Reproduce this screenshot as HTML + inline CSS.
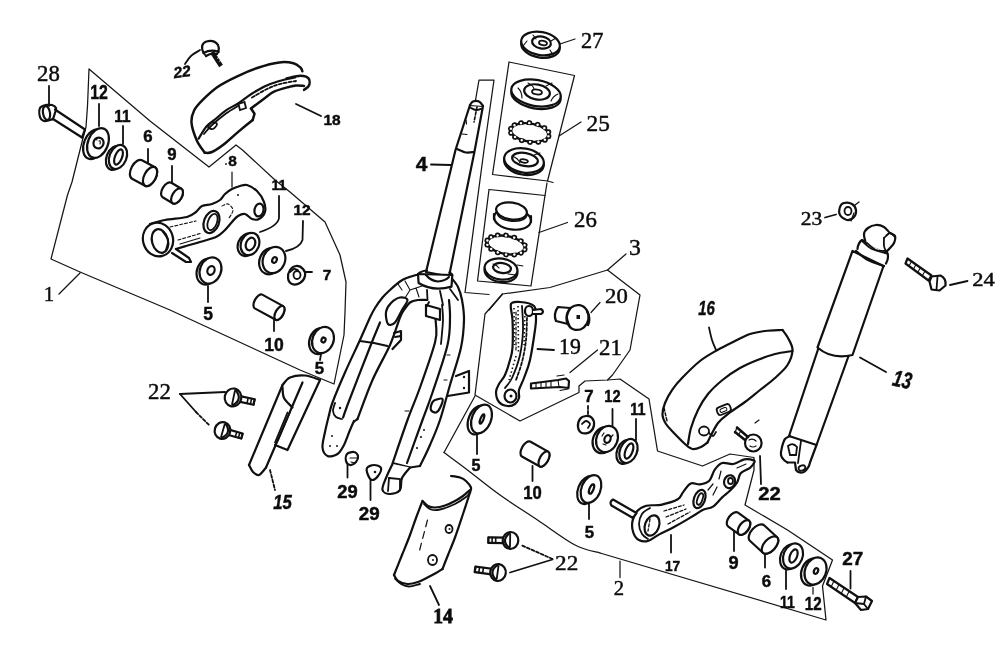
<!DOCTYPE html>
<html><head><meta charset="utf-8"><title>Front fork</title>
<style>
html,body{margin:0;padding:0;background:#fff;}
body{width:1000px;height:648px;overflow:hidden;font-family:"Liberation Sans",sans-serif;}
svg{display:block;filter:blur(0.45px)}
.p{fill:none;stroke:#101010;stroke-width:2.2;stroke-linecap:round;stroke-linejoin:round}
.w{fill:#fff}
.k{stroke-width:2.5}
.t{fill:none;stroke:#151515;stroke-width:1.25;stroke-linecap:round;stroke-linejoin:round}
.l{fill:none;stroke:#101010;stroke-width:1.8;stroke-linecap:round}
.d{stroke-dasharray:3 2}
.f{fill:#141414;stroke:none}
text{fill:#0c0c0c;stroke:#0c0c0c;stroke-width:0.45px}
</style></head><body>
<svg width="1000" height="648" viewBox="0 0 1000 648">
<rect width="1000" height="648" fill="#fff"/>
<path class="t" d="M89.0,69.0 L87.5,106.0 L86.0,127.0 L82.5,140.0 L72.0,182.0 L67.5,195.0 L51.0,259.0 L80.0,272.0 L170.0,310.0 L300.0,370.0 L334.0,384.0 L344.0,335.0 L345.0,312.0 L346.0,282.0 L340.0,255.0 L325.0,222.0 L290.0,192.0 L275.0,180.0 L242.5,150.0 L236.0,145.0 L209.0,167.0 L150.0,121.0Z" />
<path class="t" d="M59.0,294.0 L80.0,273.0" />
<path class="t" d="M475.0,103.0 L479.0,80.0 L494.0,80.0 L484.0,150.0 L465.0,292.5 L489.0,294.5" />
<path class="t" d="M509.0,62.0 L574.5,75.5 L547.5,181.0 L492.5,174.5Z" />
<path class="t" d="M547.5,181.0 L553.0,182.5" />
<path class="t" d="M489.0,189.5 L545.0,195.5 L531.0,286.0 L477.5,281.0Z" />
<path class="t" d="M545.0,195.5 L547.0,183.0" />
<path class="t" d="M502.5,294.0 L550.0,287.5 L607.5,270.0 L640.0,295.0 L630.0,350.0 L612.5,375.0 L607.5,380.0 L585.0,381.0 L579.0,386.0 L579.0,392.5 L520.0,421.0 L475.0,395.0 L485.0,314.0Z" />
<path class="t" d="M607.5,270.0 L626.0,254.0" />
<path class="t" d="M489.0,310.0 L502.5,294.0" />
<path class="t" d="M475.0,396.0 L444.0,452.5 " />
<path class="t" d="M444.0,452.5 C447.9,455.4 458.2,462.9 467.5,470.0 C476.8,477.1 488.3,486.7 500.0,495.0 C511.7,503.3 525.0,511.7 537.5,520.0 C550.0,528.3 564.6,539.5 575.0,545.0 C585.4,550.5 595.8,551.7 600.0,553.0" />
<path class="t" d="M600.0,553.0 L826.0,620.0 L822.5,586.0 L832.5,560.0 L787.5,530.0 L745.0,505.0 L754.0,470.0 L754.0,457.5 L730.0,454.0 L702.5,466.0 L657.5,451.0 L649.0,399.0 L620.0,379.0 L607.5,380.0" />
<path class="t" d="M620.0,561.0 L620.0,577.5" />
<path class="l" d="M49.0,86.0 L49.0,106.0" />
<path class="l" d="M180.0,394.0 L225.0,392.0" />
<path class="l" d="M180.0,394.0 L196.0,412.0" />
<path class="l d" d="M196.0,412.0 L209.0,425.0" />
<path class="t" d="M560.0,44.0 L575.0,39.0" />
<path class="t" d="M581.0,122.0 L559.0,136.0" />
<path class="t" d="M567.5,222.5 L539.0,232.5" />
<path class="t" d="M600.0,302.5 L591.0,312.5" />
<path class="l" d="M537.5,349.0 L554.0,350.0" />
<path class="t" d="M597.5,350.0 L570.0,372.5" />
<path class="l d" d="M552.5,559.0 L521.0,545.0" />
<path class="l" d="M552.5,559.5 L510.0,572.5" />
<path class="l" d="M825.0,217.5 L836.0,214.5" />
<path class="l" d="M950.0,285.0 L967.5,281.0" />
<text x="37.1" y="81.0" textLength="22.8" lengthAdjust="spacingAndGlyphs" style="font-family:'Liberation Serif',serif;font-size:22.2px;font-weight:normal;">28</text>
<text x="49.0" y="301.0" text-anchor="middle" style="font-family:'Liberation Serif',serif;font-size:20.7px;font-weight:normal;">1</text>
<text x="148.1" y="399.0" textLength="22.8" lengthAdjust="spacingAndGlyphs" style="font-family:'Liberation Serif',serif;font-size:22.2px;font-weight:normal;">22</text>
<text x="581.1" y="48.0" textLength="22.3" lengthAdjust="spacingAndGlyphs" style="font-family:'Liberation Serif',serif;font-size:22.2px;font-weight:normal;">27</text>
<text x="586.6" y="131.0" textLength="23.3" lengthAdjust="spacingAndGlyphs" style="font-family:'Liberation Serif',serif;font-size:22.2px;font-weight:normal;">25</text>
<text x="574.1" y="227.0" textLength="22.8" lengthAdjust="spacingAndGlyphs" style="font-family:'Liberation Serif',serif;font-size:22.2px;font-weight:normal;">26</text>
<text x="635.0" y="255.0" text-anchor="middle" style="font-family:'Liberation Serif',serif;font-size:23.7px;font-weight:normal;">3</text>
<text x="605.1" y="302.5" textLength="22.7" lengthAdjust="spacingAndGlyphs" style="font-family:'Liberation Serif',serif;font-size:21.4px;font-weight:normal;">20</text>
<text x="559.1" y="354.0" textLength="21.8" lengthAdjust="spacingAndGlyphs" style="font-family:'Liberation Serif',serif;font-size:22.2px;font-weight:normal;">19</text>
<text x="599.1" y="355.0" textLength="22.8" lengthAdjust="spacingAndGlyphs" style="font-family:'Liberation Serif',serif;font-size:22.2px;font-weight:normal;">21</text>
<text x="555.1" y="569.5" textLength="23.2" lengthAdjust="spacingAndGlyphs" style="font-family:'Liberation Serif',serif;font-size:21.4px;font-weight:normal;">22</text>
<text x="619.0" y="595.0" text-anchor="middle" style="font-family:'Liberation Serif',serif;font-size:20.7px;font-weight:normal;">2</text>
<text x="800.8" y="225.0" textLength="21.4" lengthAdjust="spacingAndGlyphs" style="font-family:'Liberation Serif',serif;font-size:17.8px;font-weight:normal;">23</text>
<text x="972.2" y="286.0" textLength="22.5" lengthAdjust="spacingAndGlyphs" style="font-family:'Liberation Serif',serif;font-size:19.2px;font-weight:normal;">24</text>
<text x="433.2" y="622.5" textLength="19.6" lengthAdjust="spacingAndGlyphs" style="font-family:'Liberation Serif',serif;font-size:20.0px;font-weight:bold;stroke-width:0.8px;">14</text>
<text x="90.2" y="99.0" textLength="17.6" lengthAdjust="spacingAndGlyphs" style="font-family:'Liberation Sans',serif;font-size:19.6px;font-weight:bold;">12</text>
<path class="l" d="M99.0,104.0 L99.0,126.0" />
<text x="114.3" y="122.0" textLength="16.3" lengthAdjust="spacingAndGlyphs" style="font-family:'Liberation Sans',serif;font-size:16.8px;font-weight:bold;">11</text>
<path class="l" d="M123.0,126.0 L123.0,144.0" />
<text x="148.0" y="142.0" text-anchor="middle" style="font-family:'Liberation Sans',serif;font-size:16.8px;font-weight:bold;">6</text>
<path class="l" d="M148.0,149.0 L148.0,165.0" />
<text x="172.0" y="160.0" text-anchor="middle" style="font-family:'Liberation Sans',serif;font-size:16.8px;font-weight:bold;">9</text>
<path class="l" d="M172.0,166.0 L172.0,182.0" />
<text x="173.4" y="77.0" textLength="17.2" lengthAdjust="spacingAndGlyphs" style="font-family:'Liberation Sans',serif;font-size:15.4px;font-weight:bold;font-style:italic;" transform="rotate(-8.0 182.0 71.5)">22</text>
<path class="l" d="M185.0,64.0 C186.0,62.7 188.5,58.3 191.0,56.0 C193.5,53.7 198.5,51.0 200.0,50.0" />
<text x="323.4" y="125.0" textLength="17.2" lengthAdjust="spacingAndGlyphs" style="font-family:'Liberation Sans',serif;font-size:15.4px;font-weight:bold;">18</text>
<path class="l" d="M296.0,104.0 L321.0,116.0" />
<text x="232.5" y="166.0" text-anchor="middle" style="font-family:'Liberation Sans',serif;font-size:15.4px;font-weight:bold;">8</text>
<circle class="f" cx="226" cy="164" r="0.9"/>
<path class="t" d="M232.0,172.0 L232.0,187.0" />
<text x="271.4" y="190.0" textLength="15.2" lengthAdjust="spacingAndGlyphs" style="font-family:'Liberation Sans',serif;font-size:15.4px;font-weight:bold;">11</text>
<path class="l" d="M279,196 L279,218 Q278,226 260,232" />
<text x="293.4" y="215.0" textLength="17.1" lengthAdjust="spacingAndGlyphs" style="font-family:'Liberation Sans',serif;font-size:14.0px;font-weight:bold;">12</text>
<path class="l" d="M303,221 L302.5,240 Q300,248 286,251" />
<text x="327.0" y="280.0" text-anchor="middle" style="font-family:'Liberation Sans',serif;font-size:15.4px;font-weight:bold;">7</text>
<path class="l" d="M304.0,272.0 L312.0,272.0" />
<text x="208.2" y="319.5" text-anchor="middle" style="font-family:'Liberation Sans',serif;font-size:17.5px;font-weight:bold;">5</text>
<path class="l" d="M208.0,286.0 L208.0,302.0" />
<text x="264.3" y="351.0" textLength="19.5" lengthAdjust="spacingAndGlyphs" style="font-family:'Liberation Sans',serif;font-size:18.2px;font-weight:bold;">10</text>
<path class="l" d="M274.0,317.0 L274.0,331.0" />
<text x="319.5" y="374.0" text-anchor="middle" style="font-family:'Liberation Sans',serif;font-size:16.8px;font-weight:bold;">5</text>
<path class="l" d="M321.0,354.0 L320.0,360.0" />
<text x="273.2" y="509.0" textLength="18.6" lengthAdjust="spacingAndGlyphs" style="font-family:'Liberation Sans',serif;font-size:19.6px;font-weight:bold;font-style:italic;">15</text>
<path class="l d" d="M270.0,470.0 L275.0,490.0" />
<text x="337.3" y="497.5" textLength="20.4" lengthAdjust="spacingAndGlyphs" style="font-family:'Liberation Sans',serif;font-size:17.5px;font-weight:bold;">29</text>
<path class="l" d="M347.5,465.0 L347.5,477.5" />
<text x="358.8" y="519.5" textLength="20.9" lengthAdjust="spacingAndGlyphs" style="font-family:'Liberation Sans',serif;font-size:17.5px;font-weight:bold;">29</text>
<path class="l" d="M370.5,479.0 L370.5,500.0" />
<text x="421.5" y="171.0" text-anchor="middle" style="font-family:'Liberation Sans',serif;font-size:20.9px;font-weight:bold;">4</text>
<path class="l" d="M431.0,164.5 L451.0,165.0" />
<text x="476.0" y="470.5" text-anchor="middle" style="font-family:'Liberation Sans',serif;font-size:16.1px;font-weight:bold;">5</text>
<path class="l" d="M477.0,435.0 L477.0,454.0" />
<text x="523.3" y="499.0" textLength="18.5" lengthAdjust="spacingAndGlyphs" style="font-family:'Liberation Sans',serif;font-size:18.2px;font-weight:bold;">10</text>
<path class="l" d="M532.5,466.0 L532.5,481.0" />
<text x="589.5" y="538.0" text-anchor="middle" style="font-family:'Liberation Sans',serif;font-size:16.8px;font-weight:bold;">5</text>
<path class="l" d="M589.0,502.5 L589.0,519.0" />
<text x="588.8" y="402.0" text-anchor="middle" style="font-family:'Liberation Sans',serif;font-size:16.8px;font-weight:bold;">7</text>
<path class="l d" d="M588.0,406.0 L588.0,416.0" />
<text x="604.3" y="402.0" textLength="16.3" lengthAdjust="spacingAndGlyphs" style="font-family:'Liberation Sans',serif;font-size:16.8px;font-weight:bold;">12</text>
<path class="l" d="M612.5,409.0 L612.5,426.0" />
<text x="630.3" y="414.5" textLength="15.3" lengthAdjust="spacingAndGlyphs" style="font-family:'Liberation Sans',serif;font-size:16.8px;font-weight:bold;">11</text>
<path class="l" d="M636.0,419.0 L636.0,440.0" />
<text x="698.2" y="314.5" textLength="16.6" lengthAdjust="spacingAndGlyphs" style="font-family:'Liberation Sans',serif;font-size:20.3px;font-weight:bold;font-style:italic;">16</text>
<path class="l" d="M709.0,327.5 C709.5,329.6 710.8,336.2 712.0,340.0 C713.2,343.8 715.3,348.3 716.0,350.0" />
<text x="758.3" y="500.0" textLength="22.5" lengthAdjust="spacingAndGlyphs" style="font-family:'Liberation Sans',serif;font-size:18.2px;font-weight:bold;">22</text>
<path class="l" d="M760.0,456.0 L761.0,484.0" />
<text x="664.9" y="571.0" textLength="15.2" lengthAdjust="spacingAndGlyphs" style="font-family:'Liberation Sans',serif;font-size:15.4px;font-weight:bold;">17</text>
<path class="l" d="M671.0,535.0 L671.0,552.5" />
<text x="733.5" y="569.0" text-anchor="middle" style="font-family:'Liberation Sans',serif;font-size:18.2px;font-weight:bold;">9</text>
<path class="l" d="M734.0,530.0 L734.0,551.0" />
<text x="766.5" y="587.0" text-anchor="middle" style="font-family:'Liberation Sans',serif;font-size:16.8px;font-weight:bold;">6</text>
<path class="l" d="M765.0,547.5 L765.0,567.5" />
<text x="779.9" y="607.5" textLength="14.8" lengthAdjust="spacingAndGlyphs" style="font-family:'Liberation Sans',serif;font-size:16.1px;font-weight:bold;">11</text>
<path class="l" d="M786.0,570.0 L786.0,589.0" />
<text x="804.8" y="610.0" textLength="16.9" lengthAdjust="spacingAndGlyphs" style="font-family:'Liberation Sans',serif;font-size:17.5px;font-weight:bold;">12</text>
<path class="t" d="M813.0,587.5 L813.0,594.0" />
<text x="842.2" y="565.0" textLength="21.0" lengthAdjust="spacingAndGlyphs" style="font-family:'Liberation Sans',serif;font-size:18.9px;font-weight:bold;">27</text>
<path class="l" d="M850.5,571.0 L850.5,588.5" />
<text x="893.1" y="387.5" textLength="18.8" lengthAdjust="spacingAndGlyphs" style="font-family:'Liberation Sans',serif;font-size:23.0px;font-weight:bold;font-style:italic;" transform="rotate(12.0 902.5 379.2)">13</text>
<path class="l" d="M860.0,357.5 L886.0,372.0" />
<path class="l" d="M430.0,586.0 L439.0,605.0" />
<path class="p" d="M55.0,109.5 L85.0,129.5" />
<path class="p" d="M53.0,119.0 L82.0,137.5" />
<path class="p" d="M85.0,129.5 L82.0,137.5" />
<path class="p w" d="M46.0,105.0 C45.0,105.5 41.0,106.0 40.0,108.0 C39.0,110.0 39.3,114.8 40.0,117.0 C40.7,119.2 42.3,120.5 44.0,121.0 C45.7,121.5 48.5,120.3 50.0,120.0 C51.5,119.7 52.5,119.2 53.0,119.0" />
<path class="p" d="M46.0,105.0 C47.0,105.0 50.3,104.5 52.0,105.0 C53.7,105.5 55.5,106.7 56.0,108.0 C56.5,109.3 55.5,111.2 55.0,113.0 C54.5,114.8 53.3,118.0 53.0,119.0" />
<ellipse class="p w" cx="46.5" cy="113.0" rx="3.5" ry="7.0" transform="rotate(-10.0 46.5 113.0)" />
<ellipse class="p w" cx="94.0" cy="144.2" rx="10.0" ry="15.5" transform="rotate(22.0 94.0 144.2)" />
<ellipse class="p w" cx="98.0" cy="143.0" rx="10.0" ry="15.5" transform="rotate(22.0 98.0 143.0)" />
<ellipse class="p" cx="98.5" cy="143.0" rx="5.0" ry="5.5" transform="rotate(22.0 98.5 143.0)" />
<path class="l" d="M94,141 q1,-3 3,-1 M99,141 q2,-1 1,3" style="stroke-width:1.1"/>
<ellipse class="p w" cx="115.0" cy="157.9" rx="8.5" ry="12.5" transform="rotate(22.0 115.0 157.9)" />
<ellipse class="p w" cx="118.0" cy="157.0" rx="8.5" ry="12.5" transform="rotate(22.0 118.0 157.0)" />
<ellipse class="p" cx="118.5" cy="157.0" rx="3.5" ry="8.0" transform="rotate(22.0 118.5 157.0)" />
<g transform="translate(137.0 169.5) rotate(28.3)">
<path class="p w" d="M0,-10.5 L14.8,-10.5 A5.8,10.5 0 0 1 14.8,10.5 L0,10.5 A5.8,10.5 0 0 1 0,-10.5 Z"/>
<ellipse class="p w" cx="14.8" cy="0" rx="5.8" ry="10.5"/>
</g>
<g transform="translate(167.0 190.0) rotate(31.0)">
<path class="p w" d="M0,-8.5 L11.7,-8.5 A4.7,8.5 0 0 1 11.7,8.5 L0,8.5 A4.7,8.5 0 0 1 0,-8.5 Z"/>
<ellipse class="p w" cx="11.7" cy="0" rx="4.7" ry="8.5"/>
</g>
<path d="M212,52 L221,66" style="fill:none;stroke:#111;stroke-width:4.4;stroke-linecap:butt"/>
<path d="M217,58.5 l3,-1.6 M219,61.5 l3,-1.6" style="fill:none;stroke:#fff;stroke-width:0.7"/>
<path class="p w" d="M203.5,53 Q199.5,44 206.5,41.5 Q214,39.5 218,45 Q219.5,48 218.5,52 Q211,49 203.5,53 Z" />
<path class="p" d="M206,56 Q211,52.5 217,54" />
<path class="l" d="M203.5,53 L206,56 M218.5,52 L217,54" />
<g transform="translate(233.0 397.5) rotate(12.0)">
<path class="p w" d="M4.5,-2.8 L21.5,-2.8 L21.5,2.8 L4.5,2.8 Z"/>
<path class="l" d="M14.9,-2.8 L14.9,2.8 M18.4,-2.8 L18.4,2.8 M21.8,-2.8 L21.8,2.8" style="stroke-width:1.6"/>
<ellipse class="p w" cx="0" cy="0" rx="8.3" ry="9.0"/>
<path class="p" d="M1.3,-7.6 Q10.3,0 1.3,7.6"/>
<path class="l" d="M0.5,-6.8 L0.5,6.8" style="stroke-width:1.8"/>
</g>
<g transform="translate(222.5 430.5) rotate(16.0)">
<path class="p w" d="M4.2,-2.6 L20.2,-2.6 L20.2,2.6 L4.2,2.6 Z"/>
<path class="l" d="M14.1,-2.6 L14.1,2.6 M17.3,-2.6 L17.3,2.6 M20.5,-2.6 L20.5,2.6" style="stroke-width:1.6"/>
<ellipse class="p w" cx="0" cy="0" rx="7.8" ry="8.5"/>
<path class="p" d="M1.3,-7.2 Q9.8,0 1.3,7.2"/>
<path class="l" d="M0.4,-6.4 L0.4,6.4" style="stroke-width:1.8"/>
</g>
<g transform="translate(510.5 540.5) rotate(181.0)">
<path class="p w" d="M4.2,-2.8 L22.2,-2.8 L22.2,2.8 L4.2,2.8 Z"/>
<path class="l" d="M14.8,-2.8 L14.8,2.8 M18.4,-2.8 L18.4,2.8 M22.0,-2.8 L22.0,2.8" style="stroke-width:1.6"/>
<ellipse class="p w" cx="0" cy="0" rx="7.8" ry="8.5"/>
<path class="p" d="M1.3,-7.2 Q9.8,0 1.3,7.2"/>
<path class="l" d="M0.4,-6.4 L0.4,6.4" style="stroke-width:1.8"/>
</g>
<g transform="translate(498.0 572.5) rotate(188.0)">
<path class="p w" d="M4.2,-2.8 L23.2,-2.8 L23.2,2.8 L4.2,2.8 Z"/>
<path class="l" d="M15.1,-2.8 L15.1,2.8 M19.0,-2.8 L19.0,2.8 M22.8,-2.8 L22.8,2.8" style="stroke-width:1.6"/>
<ellipse class="p w" cx="0" cy="0" rx="7.8" ry="8.5"/>
<path class="p" d="M1.3,-7.2 Q9.8,0 1.3,7.2"/>
<path class="l" d="M0.4,-6.4 L0.4,6.4" style="stroke-width:1.8"/>
</g>
<path class="p k" d="M204.8,152.8 C203.5,150.7 199.0,145.4 196.8,140.4 C194.6,135.4 191.9,127.7 191.5,122.7 C191.1,117.7 192.3,114.2 194.2,110.3 C196.1,106.4 199.2,103.4 203.0,99.6 C206.8,95.8 211.6,91.0 217.2,87.2 C222.8,83.4 229.9,79.8 236.7,76.6 C243.5,73.3 250.9,70.1 258.0,67.7 C265.1,65.3 273.4,63.1 279.3,62.4 C285.2,61.7 289.9,62.4 293.5,63.3 C297.1,64.2 299.1,66.4 300.6,67.7 C302.1,69.0 302.0,70.7 302.3,71.3" />
<path class="p k" d="M286.4,78.4 C288.8,78.0 296.9,75.7 300.6,75.7 C304.3,75.7 307.1,76.8 308.5,78.4 C309.9,80.0 309.8,83.6 309.0,85.5 C308.2,87.4 304.8,89.2 304.0,89.9" />
<path class="p k" d="M304.0,86.0 C302.7,85.9 298.7,85.3 296.0,85.5 C293.3,85.7 291.7,86.2 288.0,87.2 C284.3,88.2 277.8,89.9 274.0,91.7 C270.2,93.5 268.8,95.1 265.0,97.9 C261.2,100.7 253.3,106.7 251.0,108.5" />
<path class="p k" d="M251.0,108.5 L254.5,113.8 L252.7,120.0" />
<path class="p k" d="M252.7,120.0 C250.3,121.9 243.2,127.6 238.5,131.6 C233.8,135.6 228.7,140.6 224.3,144.0 C219.9,147.4 215.2,150.5 212.0,152.0 C208.8,153.5 206.0,152.7 204.8,152.8" />
<path class="p" d="M198.6,138.7 C199.9,136.6 203.8,129.5 206.6,126.2 C209.4,122.9 212.3,121.7 215.5,119.0 C218.7,116.3 222.2,112.9 226.0,110.3 C229.8,107.7 234.3,105.9 238.5,103.2 C242.7,100.5 246.6,97.1 251.0,94.3 C255.4,91.5 260.3,88.5 265.0,86.3 C269.7,84.1 274.3,82.5 279.3,81.0 C284.3,79.5 292.4,78.1 295.0,77.5" />
<path class="l" d="M204.0,134.0 C205.3,132.5 208.3,128.4 212.0,125.0 C215.7,121.6 221.7,116.7 226.0,113.5 C230.3,110.3 236.0,107.2 238.0,106.0" />
<path class="l d" d="M252.0,97.5 C254.3,96.2 261.3,91.8 266.0,89.5 C270.7,87.2 275.0,85.4 280.0,84.0 C285.0,82.6 293.3,81.5 296.0,81.0" />
<path class="l" d="M238.5,104.0 L244.5,102.0 L246.0,108.0 L240.0,110.0Z" />
<path class="l" d="M208.0,127.0 C207.8,125.9 210.5,123.0 212.0,122.5 C213.5,122.0 216.8,122.9 217.0,124.0 C217.2,125.1 214.5,128.5 213.0,129.0 C211.5,129.5 208.2,128.1 208.0,127.0Z" />
<path class="p w" d="M150.0,224.0 C152.5,223.3 158.8,221.2 165.0,220.0 C171.2,218.8 181.8,218.3 187.0,217.0 C192.2,215.7 193.5,213.8 196.0,212.0 C198.5,210.2 199.3,207.3 202.0,206.0 C204.7,204.7 209.0,205.0 212.0,204.0 C215.0,203.0 217.8,201.7 220.0,200.0 C222.2,198.3 223.0,195.8 225.0,194.0 C227.0,192.2 229.5,190.3 232.0,189.0 C234.5,187.7 237.5,186.7 240.0,186.0 C242.5,185.3 244.2,184.2 247.0,185.0 C249.8,185.8 254.2,188.2 257.0,191.0 C259.8,193.8 262.7,198.5 264.0,202.0 C265.3,205.5 265.8,209.2 265.0,212.0 C264.2,214.8 261.2,217.8 259.0,219.0 C256.8,220.2 254.3,219.8 252.0,219.0 C249.7,218.2 247.3,214.5 245.0,214.0 C242.7,213.5 240.2,214.7 238.0,216.0 C235.8,217.3 234.3,219.5 232.0,222.0 C229.7,224.5 226.7,228.5 224.0,231.0 C221.3,233.5 220.0,235.2 216.0,237.0 C212.0,238.8 205.0,240.5 200.0,242.0 C195.0,243.5 190.0,244.8 186.0,246.0 C182.0,247.2 177.7,248.5 176.0,249.0" />
<ellipse class="p w" cx="158.0" cy="239.5" rx="15.0" ry="17.0" transform="rotate(-15.0 158.0 239.5)" />
<ellipse class="p" cx="160.0" cy="241.0" rx="8.0" ry="12.0" transform="rotate(-15.0 160.0 241.0)" />
<path class="l" d="M163.0,232.0 C163.8,233.3 167.5,237.0 168.0,240.0 C168.5,243.0 166.3,248.3 166.0,250.0" />
<path class="p w" d="M176.0,249.0 L189.0,258.0 L191.0,262.0 L186.0,262.0 L172.0,253.0" />
<ellipse class="p w" cx="211.5" cy="222.0" rx="7.5" ry="11.5" transform="rotate(20.0 211.5 222.0)" />
<ellipse class="l" cx="212.5" cy="222.0" rx="4.5" ry="8.5" transform="rotate(20.0 212.5 222.0)" />
<ellipse class="p w" cx="259.0" cy="210.0" rx="4.5" ry="6.5" transform="rotate(10.0 259.0 210.0)" />
<path class="l d" d="M170.0,227.0 L196.0,221.0" style="stroke-width:1.1"/>
<path class="l d" d="M178.0,240.0 L202.0,233.0" style="stroke-width:1.1"/>
<path class="l" d="M180.0,244.0 L200.0,238.0" style="stroke-width:1.1"/>
<path class="l d" d="M222.0,206.0 C223.0,205.7 226.2,203.3 228.0,204.0 C229.8,204.7 232.8,207.7 233.0,210.0 C233.2,212.3 229.7,216.7 229.0,218.0" style="stroke-width:1.1"/>
<circle class="f" cx="238" cy="195" r="1"/>
<ellipse class="p w" cx="247.0" cy="244.9" rx="9.0" ry="11.5" transform="rotate(22.0 247.0 244.9)" />
<ellipse class="p w" cx="250.0" cy="244.0" rx="9.0" ry="11.5" transform="rotate(22.0 250.0 244.0)" />
<ellipse class="p" cx="250.5" cy="244.0" rx="4.5" ry="6.5" transform="rotate(22.0 250.5 244.0)" />
<ellipse class="p w" cx="270.5" cy="261.1" rx="11.0" ry="13.5" transform="rotate(22.0 270.5 261.1)" />
<ellipse class="p w" cx="274.0" cy="260.0" rx="11.0" ry="13.5" transform="rotate(22.0 274.0 260.0)" />
<ellipse class="p" cx="274.5" cy="260.0" rx="2.2" ry="3.0" transform="rotate(22.0 274.5 260.0)" />
<path class="p w" d="M296.0,266.0 C298.2,265.8 301.5,267.3 303.0,269.0 C304.5,270.7 305.5,273.7 305.0,276.0 C304.5,278.3 302.2,281.7 300.0,283.0 C297.8,284.3 294.0,284.8 292.0,284.0 C290.0,283.2 288.3,280.3 288.0,278.0 C287.7,275.7 288.7,272.0 290.0,270.0 C291.3,268.0 293.8,266.2 296.0,266.0Z" />
<ellipse class="l" cx="297.0" cy="275.0" rx="3.5" ry="4.0" transform="rotate(0.0 297.0 275.0)" />
<path class="l" d="M290.0,272.0 C290.7,271.5 292.7,269.3 294.0,269.0 C295.3,268.7 297.3,269.8 298.0,270.0" />
<ellipse class="p w" cx="207.5" cy="271.4" rx="10.5" ry="13.5" transform="rotate(22.0 207.5 271.4)" />
<ellipse class="p w" cx="210.5" cy="270.5" rx="10.5" ry="13.5" transform="rotate(22.0 210.5 270.5)" />
<ellipse class="p" cx="211.0" cy="270.5" rx="3.5" ry="4.5" transform="rotate(22.0 211.0 270.5)" />
<g transform="translate(258.5 301.5) rotate(28.7)">
<path class="p w" d="M0,-7.8 L23.9,-7.8 A3.9,7.8 0 0 1 23.9,7.8 L0,7.8 A3.9,7.8 0 0 1 0,-7.8 Z"/>
<ellipse class="p w" cx="23.9" cy="0" rx="3.9" ry="7.8"/>
</g>
<ellipse class="p w" cx="320.0" cy="340.9" rx="10.5" ry="13.5" transform="rotate(22.0 320.0 340.9)" />
<ellipse class="p w" cx="323.0" cy="340.0" rx="10.5" ry="13.5" transform="rotate(22.0 323.0 340.0)" />
<ellipse class="p" cx="323.5" cy="340.0" rx="2.0" ry="2.5" transform="rotate(22.0 323.5 340.0)" />
<path class="p" d="M282.5,385.0 L249.0,465.0" />
<path class="p" d="M282.5,385.0 C283.8,383.8 286.2,379.1 290.0,377.5 C293.8,375.9 300.0,375.1 305.0,375.5 C310.0,375.9 317.5,379.2 320.0,380.0" />
<path class="p" d="M320.0,380.0 L287.5,450.0 L275.0,445.0" />
<path class="p" d="M302.5,382.5 L266.0,467.5" />
<path class="p" d="M249.0,465.0 C249.7,466.2 251.3,470.3 253.0,472.0 C254.7,473.7 256.8,475.8 259.0,475.0 C261.2,474.2 264.8,468.8 266.0,467.5" />
<path class="p" d="M282.5,387.0 C282.8,388.8 282.3,394.6 284.0,398.0 C285.7,401.4 291.1,405.9 292.5,407.5" />
<path class="l" d="M287.5,412.5 L275.0,442.5" />
<path class="l" d="M290.0,413.0 L278.0,441.0" style="stroke-width:1"/>
<ellipse class="p w" cx="540.5" cy="46.0" rx="19.5" ry="11.5" transform="rotate(10.0 540.5 46.0)" />
<ellipse class="p w" cx="540.5" cy="43.5" rx="19.5" ry="11.5" transform="rotate(10.0 540.5 43.5)" />
<ellipse class="p" cx="541.5" cy="42.5" rx="9.5" ry="6.0" transform="rotate(10.0 541.5 42.5)" />
<path class="l" d="M527,41 l-4,5 M550,50 l3,5 M556,38 l-5,3 M533,35 l3,4" style="stroke-width:1.1"/>
<ellipse class="l" cx="543.0" cy="43.0" rx="4.0" ry="2.2" transform="rotate(10.0 543.0 43.0)" />
<ellipse class="p w" cx="536.0" cy="95.5" rx="25.0" ry="13.0" transform="rotate(10.0 536.0 95.5)" />
<ellipse class="p w" cx="536.0" cy="93.0" rx="25.0" ry="13.0" transform="rotate(10.0 536.0 93.0)" />
<ellipse class="p" cx="537.0" cy="92.0" rx="13.0" ry="7.5" transform="rotate(10.0 537.0 92.0)" />
<path class="l" d="M518,88 q4,4 4,10 M551,101 q2,-5 7,-7 M528,83 q5,2 6,6 M546,86 l6,-3" style="stroke-width:1.1"/>
<ellipse class="l" cx="537.0" cy="92.0" rx="5.0" ry="2.5" transform="rotate(8.0 537.0 92.0)" />
<g transform="rotate(8.0 529.7 132.5)">
<ellipse cx="529.7" cy="132.5" rx="19.0" ry="9.0" style="fill:#fff;stroke:#111;stroke-width:2.3"/>
<circle cx="548.8" cy="133.7" r="2.1" style="fill:#fff;stroke:#111;stroke-width:1.7"/>
<circle cx="545.8" cy="137.6" r="2.1" style="fill:#fff;stroke:#111;stroke-width:1.7"/>
<circle cx="539.6" cy="140.5" r="2.1" style="fill:#fff;stroke:#111;stroke-width:1.7"/>
<circle cx="531.4" cy="141.8" r="2.1" style="fill:#fff;stroke:#111;stroke-width:1.7"/>
<circle cx="522.9" cy="141.2" r="2.1" style="fill:#fff;stroke:#111;stroke-width:1.7"/>
<circle cx="515.8" cy="138.9" r="2.1" style="fill:#fff;stroke:#111;stroke-width:1.7"/>
<circle cx="511.3" cy="135.4" r="2.1" style="fill:#fff;stroke:#111;stroke-width:1.7"/>
<circle cx="510.6" cy="131.3" r="2.1" style="fill:#fff;stroke:#111;stroke-width:1.7"/>
<circle cx="513.6" cy="127.4" r="2.1" style="fill:#fff;stroke:#111;stroke-width:1.7"/>
<circle cx="519.8" cy="124.5" r="2.1" style="fill:#fff;stroke:#111;stroke-width:1.7"/>
<circle cx="528.0" cy="123.2" r="2.1" style="fill:#fff;stroke:#111;stroke-width:1.7"/>
<circle cx="536.5" cy="123.8" r="2.1" style="fill:#fff;stroke:#111;stroke-width:1.7"/>
<circle cx="543.6" cy="126.1" r="2.1" style="fill:#fff;stroke:#111;stroke-width:1.7"/>
<circle cx="548.1" cy="129.6" r="2.1" style="fill:#fff;stroke:#111;stroke-width:1.7"/>
<ellipse cx="529.7" cy="132.5" rx="17.4" ry="7.4" style="fill:#fff;stroke:none"/>
</g>
<ellipse class="p w" cx="524.0" cy="162.7" rx="20.0" ry="12.0" transform="rotate(10.0 524.0 162.7)" />
<ellipse class="p w" cx="524.0" cy="160.5" rx="20.0" ry="12.0" transform="rotate(10.0 524.0 160.5)" />
<ellipse class="p" cx="525.0" cy="159.5" rx="13.0" ry="6.5" transform="rotate(10.0 525.0 159.5)" />
<ellipse class="l" cx="524.0" cy="161.0" rx="4.0" ry="1.6" transform="rotate(10.0 524.0 161.0)" />
<path class="l" d="M512,156 q6,2 8,7 M534,155 l6,-2" style="stroke-width:1.1"/>
<ellipse class="p w" cx="512.5" cy="219.0" rx="18.5" ry="10.5" transform="rotate(8.0 512.5 219.0)" />
<path class="p" d="M494,214 L494,219 M531,216 L531,222" />
<ellipse class="p w" cx="511.5" cy="211.0" rx="15.5" ry="8.5" transform="rotate(8.0 511.5 211.0)" />
<path class="l" d="M497,212 Q498,220 512,221 Q525,222 527,215" />
<g transform="rotate(10.0 506.0 245.0)">
<ellipse cx="506.0" cy="245.0" rx="19.0" ry="9.0" style="fill:#fff;stroke:#111;stroke-width:2.3"/>
<circle cx="525.1" cy="246.2" r="2.1" style="fill:#fff;stroke:#111;stroke-width:1.7"/>
<circle cx="522.1" cy="250.1" r="2.1" style="fill:#fff;stroke:#111;stroke-width:1.7"/>
<circle cx="515.9" cy="253.0" r="2.1" style="fill:#fff;stroke:#111;stroke-width:1.7"/>
<circle cx="507.7" cy="254.3" r="2.1" style="fill:#fff;stroke:#111;stroke-width:1.7"/>
<circle cx="499.2" cy="253.7" r="2.1" style="fill:#fff;stroke:#111;stroke-width:1.7"/>
<circle cx="492.1" cy="251.4" r="2.1" style="fill:#fff;stroke:#111;stroke-width:1.7"/>
<circle cx="487.6" cy="247.9" r="2.1" style="fill:#fff;stroke:#111;stroke-width:1.7"/>
<circle cx="486.9" cy="243.8" r="2.1" style="fill:#fff;stroke:#111;stroke-width:1.7"/>
<circle cx="489.9" cy="239.9" r="2.1" style="fill:#fff;stroke:#111;stroke-width:1.7"/>
<circle cx="496.1" cy="237.0" r="2.1" style="fill:#fff;stroke:#111;stroke-width:1.7"/>
<circle cx="504.3" cy="235.7" r="2.1" style="fill:#fff;stroke:#111;stroke-width:1.7"/>
<circle cx="512.8" cy="236.3" r="2.1" style="fill:#fff;stroke:#111;stroke-width:1.7"/>
<circle cx="519.9" cy="238.6" r="2.1" style="fill:#fff;stroke:#111;stroke-width:1.7"/>
<circle cx="524.4" cy="242.1" r="2.1" style="fill:#fff;stroke:#111;stroke-width:1.7"/>
<ellipse cx="506.0" cy="245.0" rx="17.4" ry="7.4" style="fill:#fff;stroke:none"/>
</g>
<ellipse class="p w" cx="501.0" cy="271.5" rx="16.5" ry="10.5" transform="rotate(8.0 501.0 271.5)" />
<ellipse class="p w" cx="501.0" cy="269.0" rx="16.5" ry="10.5" transform="rotate(8.0 501.0 269.0)" />
<ellipse class="p" cx="502.0" cy="268.0" rx="9.0" ry="5.0" transform="rotate(8.0 502.0 268.0)" />
<path class="l" d="M493,264 q4,1 6,4 M508,274 l8,1 M517,265 l6,1" style="stroke-width:1.1"/>
<path class="p w" d="M470,105 L455.5,150 L426,272 L449,276.5 L474.5,151.5 L483,106 Z" />
<path class="p w" d="M470.0,105.0 C470.5,104.4 471.5,102.1 473.0,101.5 C474.5,100.9 477.3,100.8 479.0,101.5 C480.7,102.2 482.3,105.2 483.0,106.0" />
<path class="l" d="M470.0,107.5 C471.0,107.9 474.0,109.8 476.0,110.0 C478.0,110.2 481.0,108.8 482.0,108.5" />
<path class="p" d="M457.0,149.0 C458.5,149.6 463.2,152.0 466.0,152.5 C468.8,153.0 472.7,152.1 474.0,152.0" />
<path class="l d" d="M477,107 L474,122" style="stroke-width:1.6"/>
<path class="l" d="M462,134 l5,0.5 M466,120 l0.5,4" style="stroke-width:1.2"/>
<path class="p" d="M451.0,277.5 C452.2,279.1 456.2,283.2 458.0,287.0 C459.8,290.8 461.0,294.5 462.0,300.0 C463.0,305.5 464.2,312.1 464.0,320.0 C463.8,327.9 463.3,336.7 461.0,347.5 C458.7,358.3 453.5,372.9 450.0,385.0 C446.5,397.1 443.3,410.0 440.0,420.0 C436.7,430.0 433.3,437.3 430.0,445.0 C426.7,452.7 421.7,462.5 420.0,466.0" />
<path class="p" d="M426.0,305.0 C427.3,306.5 432.3,310.7 434.0,314.0 C435.7,317.3 435.8,320.2 436.0,325.0 C436.2,329.8 437.7,332.1 435.0,342.5 C432.3,352.9 424.6,374.6 420.0,387.5 C415.4,400.4 412.0,407.6 407.5,420.0 C403.0,432.4 395.4,455.0 393.0,462.0" />
<path class="p" d="M449.0,300.0 C449.2,302.9 450.2,310.0 450.0,317.5 C449.8,325.0 450.4,332.5 447.5,345.0 C444.6,357.5 436.7,380.0 432.5,392.5 C428.3,405.0 426.8,408.2 422.5,420.0 C418.2,431.8 409.6,455.8 407.0,463.0" />
<path class="l" d="M442.0,305.0 C442.2,307.5 443.2,313.5 443.0,320.0 C442.8,326.5 441.3,340.0 441.0,344.0" />
<path class="p" d="M392.5,463.0 L410.0,467.5 L420.0,466.0" />
<path class="p w" d="M392.5,464.0 C391.4,466.3 387.7,473.7 386.0,478.0 C384.3,482.3 381.8,487.3 382.5,490.0 C383.2,492.7 387.1,494.0 390.0,494.0 C392.9,494.0 398.0,492.7 400.0,490.0 C402.0,487.3 400.3,481.8 402.0,478.0 C403.7,474.2 408.7,469.2 410.0,467.5" />
<path class="l" d="M389.0,478.0 L400.0,479.0 L400.0,490.0" />
<path class="l" d="M389.0,478.0 L388.0,491.0" />
<path class="p" d="M456.0,376.0 L469.0,371.0 L469.0,392.5 L447.5,396.0" />
<circle class="f" cx="464" cy="377" r="1.2"/><circle class="f" cx="464" cy="388" r="1.2"/>
<path class="p" d="M435.0,400.0 C436.8,399.3 441.7,397.7 442.5,399.0 C443.3,400.3 441.1,405.8 440.0,408.0 C438.9,410.2 437.5,412.2 436.0,412.5 C434.5,412.8 431.7,411.6 431.0,410.0 C430.3,408.4 431.3,404.7 432.0,403.0 C432.7,401.3 433.2,400.7 435.0,400.0Z" />
<path class="l" d="M405,411 l4,0 M444,380 l3,0 M447,355 l3,0" style="stroke-width:1.1"/>
<circle class="f" cx="417" cy="448" r="1.1"/><circle class="f" cx="421" cy="437" r="1.1"/><circle class="f" cx="424" cy="430" r="1"/>
<path class="p" d="M418.0,274.5 C416.3,275.0 411.0,276.3 408.0,277.5 C405.0,278.7 403.0,279.4 400.0,281.5 C397.0,283.6 392.9,287.3 390.0,290.0 C387.1,292.7 385.0,294.5 382.5,297.5 C380.0,300.5 377.1,304.7 375.0,308.0 C372.9,311.3 372.5,312.2 370.0,317.5 C367.5,322.8 364.2,330.8 360.0,340.0 C355.8,349.2 349.6,362.1 345.0,372.5 C340.4,382.9 335.2,395.4 332.5,402.5 C329.8,409.6 329.6,412.9 329.0,415.0" />
<path class="p" d="M427.0,300.0 C425.5,300.0 420.8,299.6 418.0,300.0 C415.2,300.4 412.3,300.8 410.0,302.5 C407.7,304.2 405.7,307.5 404.0,310.0 C402.3,312.5 402.3,311.7 400.0,317.5 C397.7,323.3 394.6,334.6 390.0,345.0 C385.4,355.4 377.9,367.7 372.5,380.0 C367.1,392.3 360.0,412.5 357.5,419.0" />
<path class="p" d="M380.0,322.5 C378.3,326.6 375.4,333.2 370.0,347.0 C364.6,360.8 352.3,392.2 347.5,405.0 C342.7,417.8 342.1,420.8 341.0,424.0" />
<path class="p" d="M360.0,341.0 L374.0,343.0 L387.5,346.0" />
<path class="p" d="M386.0,312.0 C386.5,308.5 388.7,305.4 391.0,303.0 C393.3,300.6 397.2,298.0 400.0,297.5 C402.8,297.0 407.2,297.9 407.5,300.0 C407.8,302.1 404.1,306.2 402.0,310.0 C399.9,313.8 397.3,320.2 395.0,322.5 C392.7,324.8 389.5,325.8 388.0,324.0 C386.5,322.2 385.5,315.5 386.0,312.0Z" />
<path class="l" d="M405,281 l5,9 M410,290 l12,-4 M410,290 l-5,8 M416,288 l3,9 M398,284 l4,6" style="stroke-width:1.1"/>
<path class="p" d="M394.0,333.0 L401.0,331.0 L401.0,340.0 L392.5,349.0" />
<path class="l" d="M395.0,337.0 L401.0,336.0" />
<path class="p" d="M329.0,415.0 C329.7,416.0 331.2,419.3 333.0,421.0 C334.8,422.7 337.2,424.5 340.0,425.0 C342.8,425.5 347.1,425.0 350.0,424.0 C352.9,423.0 356.2,419.8 357.5,419.0" />
<path class="p w" d="M329.0,415.0 C328.3,417.8 326.1,426.6 325.0,432.0 C323.9,437.4 322.1,443.5 322.5,447.5 C322.9,451.5 325.0,454.9 327.5,456.0 C330.0,457.1 334.8,455.8 337.5,454.0 C340.2,452.2 341.9,449.0 344.0,445.0 C346.1,441.0 348.3,434.0 350.0,430.0 C351.7,426.0 353.3,422.5 354.0,421.0" />
<path class="l" d="M335.0,403.0 C334.7,404.3 332.8,408.7 333.0,411.0 C333.2,413.3 334.5,415.7 336.0,417.0 C337.5,418.3 341.0,418.7 342.0,419.0" />
<circle class="f" cx="332" cy="436" r="1"/><circle class="f" cx="330" cy="446" r="1"/><circle class="f" cx="337" cy="446" r="1"/><circle class="f" cx="340" cy="408" r="1.2"/>
<path class="p w" d="M418,274 L418.6,283 Q433,292 451.5,286.6 L452.3,275 Z" />
<path class="p" d="M426,275 Q431,281 438,281.5 Q445,281 449,277" />
<path class="p" d="M418,274 Q421,271 427,270.5 M449.5,272.5 Q452,273.5 452.3,275" />
<path class="l" d="M427.0,290.0 L427.5,300.0" />
<path class="l" d="M440.0,291.0 L443.0,305.0" />
<path class="l" d="M450.0,289.0 L458.0,300.0" />
<path class="p w" d="M426.0,305.0 L440.0,309.0 L440.0,320.0 L426.0,316.0Z" />
<path class="l" d="M429.0,302.0 L427.0,306.0" />
<path class="p w" d="M347.0,454.0 C348.3,452.5 352.2,451.7 354.0,452.0 C355.8,452.3 357.7,454.3 358.0,456.0 C358.3,457.7 357.3,460.5 356.0,462.0 C354.7,463.5 351.7,465.2 350.0,465.0 C348.3,464.8 346.5,462.8 346.0,461.0 C345.5,459.2 345.7,455.5 347.0,454.0Z" />
<path class="l" d="M350,458 l7,0 M351,462 l4,1" style="stroke-width:1.2"/>
<path class="p w" d="M367.0,468.0 C368.0,466.3 371.7,465.0 374.0,465.0 C376.3,465.0 380.3,466.2 381.0,468.0 C381.7,469.8 379.5,474.0 378.0,476.0 C376.5,478.0 373.7,480.2 372.0,480.0 C370.3,479.8 368.8,477.0 368.0,475.0 C367.2,473.0 366.0,469.7 367.0,468.0Z" />
<circle class="f" cx="375" cy="472" r="1.3"/>
<path class="p w" d="M511.0,304.0 C512.2,301.0 516.2,301.7 520.0,302.0 C523.8,302.3 531.3,303.3 534.0,306.0 C536.7,308.7 535.8,314.0 536.0,318.0 C536.2,322.0 536.0,323.0 535.0,330.0 C534.0,337.0 531.8,352.0 530.0,360.0 C528.2,368.0 525.8,373.0 524.0,378.0 C522.2,383.0 519.8,386.7 519.0,390.0 C518.2,393.3 519.7,395.7 519.0,398.0 C518.3,400.3 516.9,402.7 515.0,404.0 C513.1,405.3 510.2,406.3 507.5,406.0 C504.8,405.7 500.9,404.3 499.0,402.0 C497.1,399.7 496.0,395.0 496.0,392.0 C496.0,389.0 497.5,386.8 499.0,384.0 C500.5,381.2 503.2,379.0 505.0,375.0 C506.8,371.0 508.8,364.6 510.0,360.0 C511.2,355.4 512.1,354.2 512.5,347.5 C512.9,340.8 512.8,327.2 512.5,320.0 C512.2,312.8 509.8,307.0 511.0,304.0Z" />
<path class="l" d="M522.0,306.0 C522.2,310.0 523.3,321.8 523.0,330.0 C522.7,338.2 521.8,347.0 520.0,355.0 C518.2,363.0 514.5,372.5 512.0,378.0 C509.5,383.5 506.2,386.3 505.0,388.0" />
<path class="l d" d="M527.0,318.0 C526.8,321.7 526.8,332.7 526.0,340.0 C525.2,347.3 523.7,355.3 522.0,362.0 C520.3,368.7 517.0,377.0 516.0,380.0" />
<path class="l d" d="M516,312 L516,350" style="stroke-width:1.2"/>
<path d="M514,308 L514.5,345 M518,306 L518.5,352 M516,356 L509,380 M525,312 L524,345" style="fill:none;stroke:#111;stroke-width:1.6;stroke-dasharray:1.5 2.5"/>
<ellipse class="p w" cx="529.0" cy="311.0" rx="4.0" ry="5.0" transform="rotate(0.0 529.0 311.0)" />
<path class="p w" d="M533,310 L541,309 Q545,312 541,314 L533,314" />
<ellipse class="p w" cx="510.5" cy="396.0" rx="6.0" ry="6.5" transform="rotate(0.0 510.5 396.0)" />
<circle class="f" cx="511" cy="396" r="1.5"/>
<path class="p w" d="M570,308 L558,307 Q553,314 556,321 L568,324" />
<ellipse class="p w" cx="577.5" cy="317.5" rx="11.0" ry="12.5" transform="rotate(10.0 577.5 317.5)" />
<path class="l" d="M570.0,309.0 C569.5,310.3 567.0,314.0 567.0,317.0 C567.0,320.0 569.5,325.3 570.0,327.0" />
<rect class="f" x="576.5" y="315" width="3.5" height="4"/>
<path class="p" d="M587,311 Q591,318 588,325" style="stroke-width:2.4"/>
<path class="p w" d="M531.0,383.5 L558.0,380.0 L566.0,378.5 L569.0,381.0 L568.5,388.0 L560.0,387.0 L531.0,388.5Z" />
<path class="l" d="M536,383 l0,5 M541,382.5 l0,5 M546,382 l0,5 M551,381.5 l0,5 M558,380 l1,7" style="stroke-width:1.1"/>
<path class="l" d="M557,376 l7,-1 M568,389 l-8,1.5" style="stroke-width:1.2"/>
<path class="p" d="M451.0,476.0 C452.5,476.2 457.5,476.7 460.0,477.5 C462.5,478.3 464.2,479.3 466.0,481.0 C467.8,482.7 470.3,485.6 471.0,487.5 C471.7,489.4 470.2,491.7 470.0,492.5" />
<path class="p" d="M422.5,501.0 C423.4,501.8 425.9,504.9 428.0,506.0 C430.1,507.1 432.2,507.6 435.0,507.5 C437.8,507.4 441.7,506.6 445.0,505.5 C448.3,504.4 452.0,502.6 455.0,501.0 C458.0,499.4 460.5,497.8 463.0,496.0 C465.5,494.2 468.8,491.0 470.0,490.0" />
<path class="l" d="M424.0,504.0 C425.2,504.9 428.3,508.6 431.0,509.5 C433.7,510.4 436.0,510.4 440.0,509.5 C444.0,508.6 450.7,506.1 455.0,504.0 C459.3,501.9 463.5,498.9 466.0,497.0 C468.5,495.1 469.3,493.2 470.0,492.5" />
<path class="p" d="M422.5,501.0 C421.4,503.8 418.1,512.3 416.0,518.0 C413.9,523.7 412.3,528.8 410.0,535.0 C407.7,541.2 404.7,548.3 402.0,555.0 C399.3,561.7 395.3,571.7 394.0,575.0" />
<path class="p" d="M470.0,492.5 C468.8,496.1 465.5,506.5 463.0,514.0 C460.5,521.5 457.5,530.7 455.0,537.5 C452.5,544.3 450.1,549.8 448.0,555.0 C445.9,560.2 443.4,566.7 442.5,569.0" />
<path class="p" d="M394.0,575.0 C394.7,576.0 395.8,579.5 398.0,581.0 C400.2,582.5 404.2,583.8 407.5,584.0 C410.8,584.2 414.7,583.1 418.0,582.0 C421.3,580.9 424.5,579.0 427.5,577.5 C430.5,576.0 433.5,574.4 436.0,573.0 C438.5,571.6 441.4,569.7 442.5,569.0" />
<path class="l" d="M395.0,578.5 C396.0,579.4 398.7,582.7 401.0,584.0 C403.3,585.3 405.8,586.5 409.0,586.5 C412.2,586.5 418.2,584.4 420.0,584.0" />
<ellipse class="l" cx="449.0" cy="529.0" rx="3.5" ry="4.0" transform="rotate(0.0 449.0 529.0)" />
<ellipse class="l" cx="432.5" cy="560.0" rx="4.5" ry="5.0" transform="rotate(0.0 432.5 560.0)" />
<circle class="f" cx="449.5" cy="529" r="1"/><circle class="f" cx="433" cy="560" r="1"/>
<path class="l" d="M427.5,520 L419,552.5" style="stroke-dasharray:7 5;stroke-width:1.2"/>
<ellipse class="p w" cx="478.0" cy="420.1" rx="9.5" ry="15.0" transform="rotate(22.0 478.0 420.1)" />
<ellipse class="p w" cx="481.5" cy="419.0" rx="9.5" ry="15.0" transform="rotate(22.0 481.5 419.0)" />
<ellipse class="p" cx="482.0" cy="419.0" rx="1.5" ry="5.0" transform="rotate(22.0 482.0 419.0)" />
<g transform="translate(526.0 449.0) rotate(29.1)">
<path class="p w" d="M0,-8.5 L20.6,-8.5 A4.2,8.5 0 0 1 20.6,8.5 L0,8.5 A4.2,8.5 0 0 1 0,-8.5 Z"/>
<ellipse class="p w" cx="20.6" cy="0" rx="4.2" ry="8.5"/>
</g>
<ellipse class="p w" cx="587.5" cy="490.1" rx="9.5" ry="14.5" transform="rotate(22.0 587.5 490.1)" />
<ellipse class="p w" cx="591.0" cy="489.0" rx="9.5" ry="14.5" transform="rotate(22.0 591.0 489.0)" />
<ellipse class="p" cx="591.5" cy="489.0" rx="2.0" ry="5.0" transform="rotate(22.0 591.5 489.0)" />
<path class="p w" d="M586.0,416.0 C588.0,415.8 590.7,416.5 592.0,418.0 C593.3,419.5 594.3,422.7 594.0,425.0 C593.7,427.3 592.0,430.7 590.0,432.0 C588.0,433.3 584.0,433.8 582.0,433.0 C580.0,432.2 578.3,429.3 578.0,427.0 C577.7,424.7 578.7,420.8 580.0,419.0 C581.3,417.2 584.0,416.2 586.0,416.0Z" />
<path class="l" d="M582.0,424.0 C582.7,423.5 584.7,421.0 586.0,421.0 C587.3,421.0 589.7,422.8 590.0,424.0 C590.3,425.2 588.3,427.3 588.0,428.0" />
<ellipse class="p w" cx="603.5" cy="440.1" rx="10.5" ry="13.5" transform="rotate(22.0 603.5 440.1)" />
<ellipse class="p w" cx="607.0" cy="439.0" rx="10.5" ry="13.5" transform="rotate(22.0 607.0 439.0)" />
<ellipse class="p" cx="607.5" cy="439.0" rx="3.0" ry="4.0" transform="rotate(22.0 607.5 439.0)" />
<path class="l" d="M602,436 l2,-3 M611,437 l2,-2 M603,444 l3,1" style="stroke-width:1.2"/>
<ellipse class="p w" cx="625.5" cy="451.9" rx="8.5" ry="12.5" transform="rotate(22.0 625.5 451.9)" />
<ellipse class="p w" cx="628.5" cy="451.0" rx="8.5" ry="12.5" transform="rotate(22.0 628.5 451.0)" />
<ellipse class="p" cx="629.0" cy="451.0" rx="3.5" ry="8.0" transform="rotate(22.0 629.0 451.0)" />
<path class="p w" d="M753.7,460.4 C752.1,459.8 747.8,458.8 744.4,459.4 C741.0,460.0 737.0,463.4 733.3,464.0 C729.6,464.6 725.3,462.1 722.2,463.0 C719.1,463.9 716.9,466.7 714.8,469.6 C712.6,472.6 711.8,478.2 709.3,480.7 C706.8,483.2 703.1,483.9 700.0,484.4 C696.9,484.9 693.5,482.2 690.7,483.5 C687.9,484.8 685.4,489.3 683.3,491.9 C681.1,494.5 681.5,497.1 677.8,499.3 C674.1,501.5 666.2,503.7 661.0,504.8 C655.8,505.9 650.3,504.6 646.3,505.7 C642.3,506.8 639.3,508.7 637.0,511.3 C634.7,513.9 633.0,518.0 632.4,521.5 C631.8,525.0 632.2,529.5 633.3,532.6 C634.4,535.7 636.4,538.6 638.9,540.0 C641.4,541.4 644.6,541.9 648.0,541.0 C651.4,540.1 655.0,536.7 659.3,534.4 C663.6,532.1 669.4,529.5 674.0,527.0 C678.6,524.5 683.3,521.8 687.0,519.6 C690.7,517.4 693.5,515.7 696.3,514.0 C699.1,512.3 700.9,510.6 703.7,509.4 C706.5,508.2 709.9,508.7 713.0,506.7 C716.1,504.7 719.4,500.0 722.2,497.4 C725.0,494.8 727.1,493.5 729.6,491.0 C732.1,488.5 735.1,485.6 737.0,482.6 C738.9,479.7 738.5,475.8 740.7,473.3 C742.9,470.8 747.8,469.5 750.0,467.8 C752.2,466.1 753.4,464.2 754.0,463.0 C754.6,461.8 755.3,461.0 753.7,460.4Z" />
<path class="l" d="M650.0,508.0 C648.7,509.0 643.8,511.3 642.0,514.0 C640.2,516.7 639.0,520.7 639.0,524.0 C639.0,527.3 640.5,531.5 642.0,534.0 C643.5,536.5 647.0,538.2 648.0,539.0" />
<ellipse class="p" cx="652.0" cy="525.5" rx="7.0" ry="10.5" transform="rotate(20.0 652.0 525.5)" />
<path class="l d" d="M650,519 L648,531" style="stroke-width:1.3"/>
<path class="p w" d="M613,499.5 Q609,502 611.5,505.5 L633,518 L636.5,513 Z" />
<ellipse class="p w" cx="729.6" cy="481.7" rx="5.5" ry="6.5" transform="rotate(15.0 729.6 481.7)" />
<ellipse class="l" cx="730.5" cy="481.0" rx="2.5" ry="3.0" transform="rotate(0.0 730.5 481.0)" />
<ellipse class="p w" cx="699.5" cy="499.0" rx="5.5" ry="9.5" transform="rotate(20.0 699.5 499.0)" />
<ellipse class="l" cx="700.0" cy="499.0" rx="2.5" ry="6.0" transform="rotate(20.0 700.0 499.0)" />
<path class="l d" d="M664,511 L684,505 M668,524 L690,512 M666,517 L686,509" style="stroke-width:1.3"/>
<path class="l" d="M708,490 l5,-6 M713,495 l4,-8 M721,471 l-2,8 M737,468 l9,-4" style="stroke-width:1.2"/>
<g transform="translate(733.0 519.5) rotate(36.0)">
<path class="p w" d="M0,-8.5 L13.6,-8.5 A4.7,8.5 0 0 1 13.6,8.5 L0,8.5 A4.7,8.5 0 0 1 0,-8.5 Z"/>
<ellipse class="p w" cx="13.6" cy="0" rx="4.7" ry="8.5"/>
</g>
<g transform="translate(757.0 533.0) rotate(42.7)">
<path class="p w" d="M0,-10.5 L17.7,-10.5 A5.8,10.5 0 0 1 17.7,10.5 L0,10.5 A5.8,10.5 0 0 1 0,-10.5 Z"/>
<ellipse class="p w" cx="17.7" cy="0" rx="5.8" ry="10.5"/>
</g>
<ellipse class="p w" cx="790.0" cy="556.9" rx="9.5" ry="13.0" transform="rotate(22.0 790.0 556.9)" />
<ellipse class="p w" cx="793.0" cy="556.0" rx="9.5" ry="13.0" transform="rotate(22.0 793.0 556.0)" />
<ellipse class="p" cx="793.5" cy="556.0" rx="3.5" ry="7.0" transform="rotate(22.0 793.5 556.0)" />
<ellipse class="p w" cx="812.0" cy="572.0" rx="10.5" ry="14.0" transform="rotate(22.0 812.0 572.0)" />
<ellipse class="p w" cx="815.5" cy="571.0" rx="10.5" ry="14.0" transform="rotate(22.0 815.5 571.0)" />
<ellipse class="p" cx="816.0" cy="571.0" rx="2.0" ry="3.0" transform="rotate(22.0 816.0 571.0)" />
<path class="p w" d="M829.5,578 L858,597 L855,603 L827,584 Z" />
<path class="l" d="M834,581 l-2.5,5 M839,584.5 l-2.5,5 M844,588 l-2.5,5 M849,591.5 l-2.5,5" style="stroke-width:1.1"/>
<path class="p w" d="M858,597 L866,596.5 L872,601 L868,609 L861,610 L855,603 Z" />
<path class="l" d="M866,596.5 L864,604 L868,609 M864,604 L855,603" />
<path class="p" d="M782.5,330.0 C779.6,330.2 770.4,330.3 765.0,331.0 C759.6,331.7 755.0,332.3 750.0,334.0 C745.0,335.7 740.4,338.3 735.0,341.0 C729.6,343.7 723.3,346.7 717.5,350.0 C711.7,353.3 705.8,356.4 700.0,361.0 C694.2,365.6 687.2,372.7 682.5,377.5 C677.8,382.3 674.9,385.8 672.0,390.0 C669.1,394.2 666.6,398.8 665.0,403.0 C663.4,407.2 662.3,411.5 662.5,415.0 C662.7,418.5 664.2,421.2 666.0,424.0 C667.8,426.8 669.8,428.7 673.0,432.0 C676.2,435.3 681.8,441.2 685.0,444.0 C688.2,446.8 689.8,448.5 692.5,449.0 C695.2,449.5 698.5,448.1 701.0,447.0 C703.5,445.9 706.4,443.2 707.5,442.5" />
<path class="p" d="M782.5,330.0 C783.4,331.3 786.3,334.7 788.0,338.0 C789.7,341.3 792.6,345.5 792.5,350.0 C792.4,354.5 790.4,360.3 787.5,365.0 C784.6,369.7 779.6,373.8 775.0,378.0 C770.4,382.2 765.0,386.0 760.0,390.0 C755.0,394.0 750.0,398.2 745.0,402.0 C740.0,405.8 734.5,409.0 730.0,412.5 C725.5,416.0 721.8,418.0 718.0,423.0 C714.2,428.0 709.2,439.2 707.5,442.5" />
<path class="p" d="M792.5,351.0 C789.6,351.5 780.8,352.5 775.0,354.0 C769.2,355.5 763.3,357.7 757.5,360.0 C751.7,362.3 745.8,364.7 740.0,368.0 C734.2,371.3 727.8,375.7 722.5,380.0 C717.2,384.3 712.1,389.0 708.0,394.0 C703.9,399.0 700.8,404.3 698.0,410.0 C695.2,415.7 692.7,422.3 691.0,428.0 C689.3,433.7 688.5,441.3 688.0,444.0" />
<rect class="l" x="717" y="405.5" width="14" height="8" rx="3" transform="rotate(-22 724 410)"/>
<rect class="l" x="720" y="408" width="7" height="3.5" rx="1.5" transform="rotate(-22 724 410)" style="stroke-width:1"/>
<ellipse class="l" cx="704.0" cy="431.0" rx="5.0" ry="4.5" transform="rotate(0.0 704.0 431.0)" />
<path class="l" d="M709.0,433.0 C709.7,433.5 711.8,436.2 713.0,436.0 C714.2,435.8 715.5,432.7 716.0,432.0" />
<path class="l d" d="M664,408 L667,421" style="stroke-width:1.5"/>
<ellipse class="p w" cx="753.3" cy="443.0" rx="8.3" ry="8.5" transform="rotate(0.0 753.3 443.0)" />
<path class="l" d="M749,440 q4,-2 7,1 M750,446 q3,2 6,0" style="stroke-width:1.2"/>
<path class="p k" d="M748,437 L737,427.5 M745,440 L735,432" />
<path class="l" d="M737,427 l-2,6 M741,431 l-3,4 M755,423 l4,-3" style="stroke-width:1.2"/>
<path class="p w" d="M819.5,345 L789,436 L816.5,445 L850,352 Z" />
<path class="p w" d="M852.5,251 L817.5,347.5 Q832,360 852.5,355 L883.5,266 Z" />
<path class="p" d="M857.5,249 Q858,243 862,240 L887,252 Q889.5,257 886,263.5" />
<path class="p" d="M856.0,251.0 C858.0,252.5 863.3,257.5 868.0,260.0 C872.7,262.5 881.3,265.0 884.0,266.0" />
<path class="l" d="M862.0,241.0 C863.7,242.3 867.8,246.9 872.0,249.0 C876.2,251.1 884.5,252.8 887.0,253.5" />
<path class="p w" d="M866.0,244.0 C865.7,242.3 863.7,236.7 864.0,234.0 C864.3,231.3 866.0,229.5 868.0,228.0 C870.0,226.5 873.3,225.2 876.0,225.0 C878.7,224.8 881.7,225.7 884.0,227.0 C886.3,228.3 888.2,231.5 890.0,233.0 C891.8,234.5 894.3,234.3 895.0,236.0 C895.7,237.7 894.8,241.0 894.0,243.0 C893.2,245.0 891.3,246.5 890.0,248.0 C888.7,249.5 886.7,251.3 886.0,252.0" />
<path class="l" d="M867.0,243.0 C868.5,244.2 872.8,248.7 876.0,250.0 C879.2,251.3 884.3,250.8 886.0,251.0" />
<path class="l" d="M884.0,238.0 C885.0,237.2 888.2,233.2 890.0,233.0 C891.8,232.8 894.2,236.3 895.0,237.0" />
<path class="l" d="M884.0,238.0 C884.0,239.3 883.7,243.8 884.0,246.0 C884.3,248.2 885.7,250.2 886.0,251.0" />
<path class="p" d="M790.0,436.0 C789.2,436.5 786.3,437.2 785.0,439.0 C783.7,440.8 782.7,444.3 782.0,447.0 C781.3,449.7 780.7,452.8 781.0,455.0 C781.3,457.2 782.9,458.8 784.0,460.0 C785.1,461.2 786.9,462.1 787.5,462.5" />
<path class="p" d="M787.5,462.5 L795,462.5 L796,470 Q799,474 804,472 Q809,468 810,462.5 L816.5,445" />
<path class="l" d="M788,446 Q793,442 797,447 L796,455 L790,455 Z" />
<path class="l" d="M801.0,441.0 L798.0,463.0" />
<ellipse class="l" cx="802.0" cy="468.0" rx="3.5" ry="2.5" transform="rotate(-20.0 802.0 468.0)" />
<path class="p w" d="M844.0,203.0 C846.0,202.5 850.0,202.8 852.0,204.0 C854.0,205.2 855.7,207.8 856.0,210.0 C856.3,212.2 855.5,215.3 854.0,217.0 C852.5,218.7 849.3,220.3 847.0,220.0 C844.7,219.7 841.2,217.2 840.0,215.0 C838.8,212.8 839.3,209.0 840.0,207.0 C840.7,205.0 842.0,203.5 844.0,203.0Z" />
<ellipse class="l" cx="848.0" cy="211.0" rx="3.5" ry="4.0" transform="rotate(0.0 848.0 211.0)" />
<path class="l" d="M855,205 l4,-3 M851,221 l3,-8" style="stroke-width:1.3"/>
<g transform="translate(0.5 1.5)">
<path class="p w" d="M907,257 L931,274 L928,279 L905,262 Z" />
<path class="l" d="M911,260 l-2.5,4.5 M915.5,263 l-2.5,4.5 M920,266 l-2.5,4.5 M924.5,269.5 l-2.5,4.5" style="stroke-width:1.1"/>
<path class="p w" d="M931,275 L940,274 Q946,277 945,284 L939,289 L931,288 L929,280 Z" />
<path class="l" d="M937,275 L936,288" />
</g>
</svg>
</body></html>
